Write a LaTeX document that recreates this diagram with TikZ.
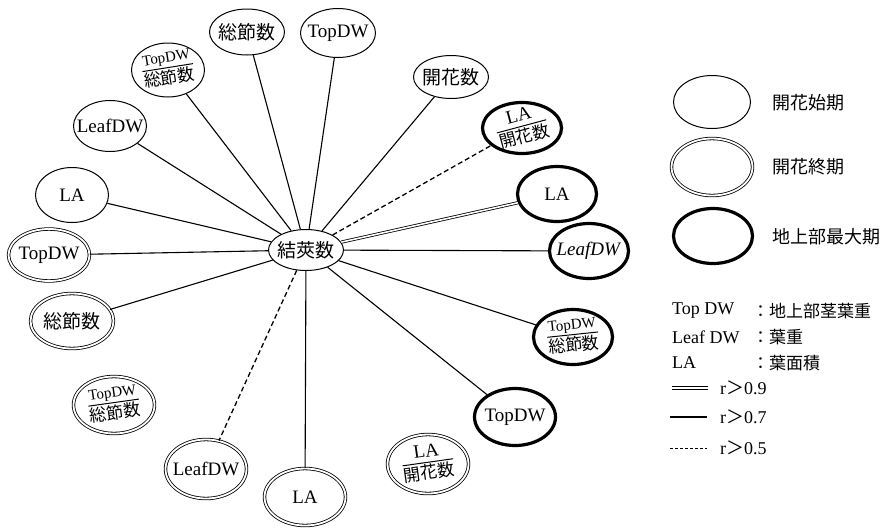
\documentclass[tikz,border=0pt]{standalone}
\usepackage{fontspec}
\setmainfont{Liberation Serif}
\newfontfamily\cjk{Noto Sans CJK JP}
\usetikzlibrary{shapes.geometric}
\setlength{\arrayrulewidth}{1pt}
\newcommand{\jp}[1]{{\cjk #1}}
\newcommand{\ratio}[3]{\rotatebox{#1}{\renewcommand{\arraystretch}{0.8}\setlength{\tabcolsep}{0pt}%
    \begin{tabular}{c}#2\\\hline\rule{0pt}{16pt}\fontsize{17}{17}\selectfont\cjk #3\end{tabular}}}

\begin{document}
\begin{tikzpicture}[x=1pt, y=-1pt]
    \tikzset{
        bub/.style={ellipse, inner sep=-20pt, font=\fontsize{19}{20}\selectfont},
        early/.style={bub, draw, line width=1pt},
        late/.style={bub, draw, line width=0.8pt, double, double distance=1.8pt},
        peak/.style={bub, draw, line width=3.2pt},
        sz/.style args={#1x#2}{minimum width=#1, minimum height=#2},
        r9/.style={draw, line width=0.8pt, double, double distance=1.6pt},
        r7/.style={draw, line width=1.1pt},
        r5/.style={draw, line width=1.3pt, dash pattern=on 5pt off 3pt},
        key/.style={anchor=west, inner sep=0pt, font=\fontsize{17}{18}\selectfont}
    }
    \useasboundingbox (0,0) rectangle (885,528);

    \node [early, sz=75x41] (pods) at (306,250) {\jp{結莢数}};

    % flowering start
    \node [early, sz=75x46] (a1) at (247,32) {\jp{総節数}};
    \node [early, sz=75x49] (a2) at (338,33) {TopDW};
    \node [early, sz=75x43] (a3) at (451,77) {\jp{開花数}};
    \node [early, sz=73x54] (a4) at (168,70) {\ratio{9}{\fontsize{15}{15}\selectfont TopDW}{総節数}};
    \node [early, sz=73x51] (a5) at (110,126) {LeafDW};
    \node [early, sz=73x55] (a6) at (72,195) {LA};

    % flowering end
    \node [late, sz=81x52] (b1) at (49,255) {TopDW};
    \node [late, sz=83x55] (b2) at (72,321) {\jp{総節数}};
    \node [late, sz=81x57] (b3) at (114,405) {\ratio{8}{\fontsize{15}{15}\selectfont TopDW}{総節数}};
    \node [late, sz=81x59] (b4) at (206,469) {LeafDW};
    \node [late, sz=81x57] (b5) at (305,497) {LA};
    \node [late, sz=81x59] (b6) at (428,464) {\ratio{8}{\fontsize{19}{19}\selectfont LA}{開花数}};

    % maximum top growth
    \node [peak, sz=81x57] (c1) at (515,417) {TopDW};
    \node [peak, sz=79x55] (c2) at (573,337) {\ratio{6}{\fontsize{15}{15}\selectfont TopDW}{総節数}};
    \node [peak, sz=79x55] (c3) at (589,251) {\textit{LeafDW}};
    \node [peak, sz=79x55] (c4) at (557,194) {LA};
    \node [peak, sz=79x51] (c5) at (522,128) {\ratio{15}{\fontsize{19}{19}\selectfont LA}{開花数}};

    \foreach \n in {a1,a2,a3,a4,a5,a6,b1,b2,b5,c1,c2,c3}
        \draw [r7] (pods) -- (\n);
    \draw [r9] (pods) -- (c4);
    \draw [r5] (pods) -- (b4);
    \draw [r5] (pods) -- (c5);

    % legend
    \node [early, sz=77x53] (ka) at (712,102) {};
    \node [late, sz=81x57] (kb) at (712,167) {};
    \node [peak, sz=79x55] (kc) at (713,236) {};
    \node [key, font=\fontsize{18}{18}\selectfont\cjk] (ta) at (772,103) {開花始期};
    \node [key, font=\fontsize{18}{18}\selectfont\cjk] (tb) at (772,167) {開花終期};
    \node [key, font=\fontsize{18}{18}\selectfont\cjk] (tc) at (772,237) {地上部最大期};

    \node [key, font=\fontsize{18}{18}\selectfont] (n1) at (672,311) {Top DW};
    \node [key, font=\fontsize{18}{18}\selectfont] (n2) at (672,337) {Leaf DW};
    \node [key, font=\fontsize{18}{18}\selectfont] (n3) at (672,363) {LA};
    \node [key, font=\fontsize{17}{18}\selectfont\cjk] (d1) at (752,311) {：地上部茎葉重};
    \node [key, font=\fontsize{17}{18}\selectfont\cjk] (d2) at (752,337) {：葉重};
    \node [key, font=\fontsize{17}{18}\selectfont\cjk] (d3) at (752,363) {：葉面積};

    \coordinate (l9a) at (672,388);
    \coordinate (l9b) at (708,388);
    \coordinate (l7a) at (670,417);
    \coordinate (l7b) at (707,417);
    \coordinate (l5a) at (670,448);
    \coordinate (l5b) at (707,448);
    \draw [r9] (l9a) -- (l9b);
    \draw [r7] (l7a) -- (l7b);
    \draw [r5, line width=1pt, dash pattern=on 3pt off 2pt] (l5a) -- (l5b);
    \node [key, font=\fontsize{18}{18}\selectfont] (v9) at (720,388) {r\jp{＞}0.9};
    \node [key, font=\fontsize{18}{18}\selectfont] (v7) at (720,417) {r\jp{＞}0.7};
    \node [key, font=\fontsize{18}{18}\selectfont] (v5) at (720,448) {r\jp{＞}0.5};
\end{tikzpicture}
\end{document}
